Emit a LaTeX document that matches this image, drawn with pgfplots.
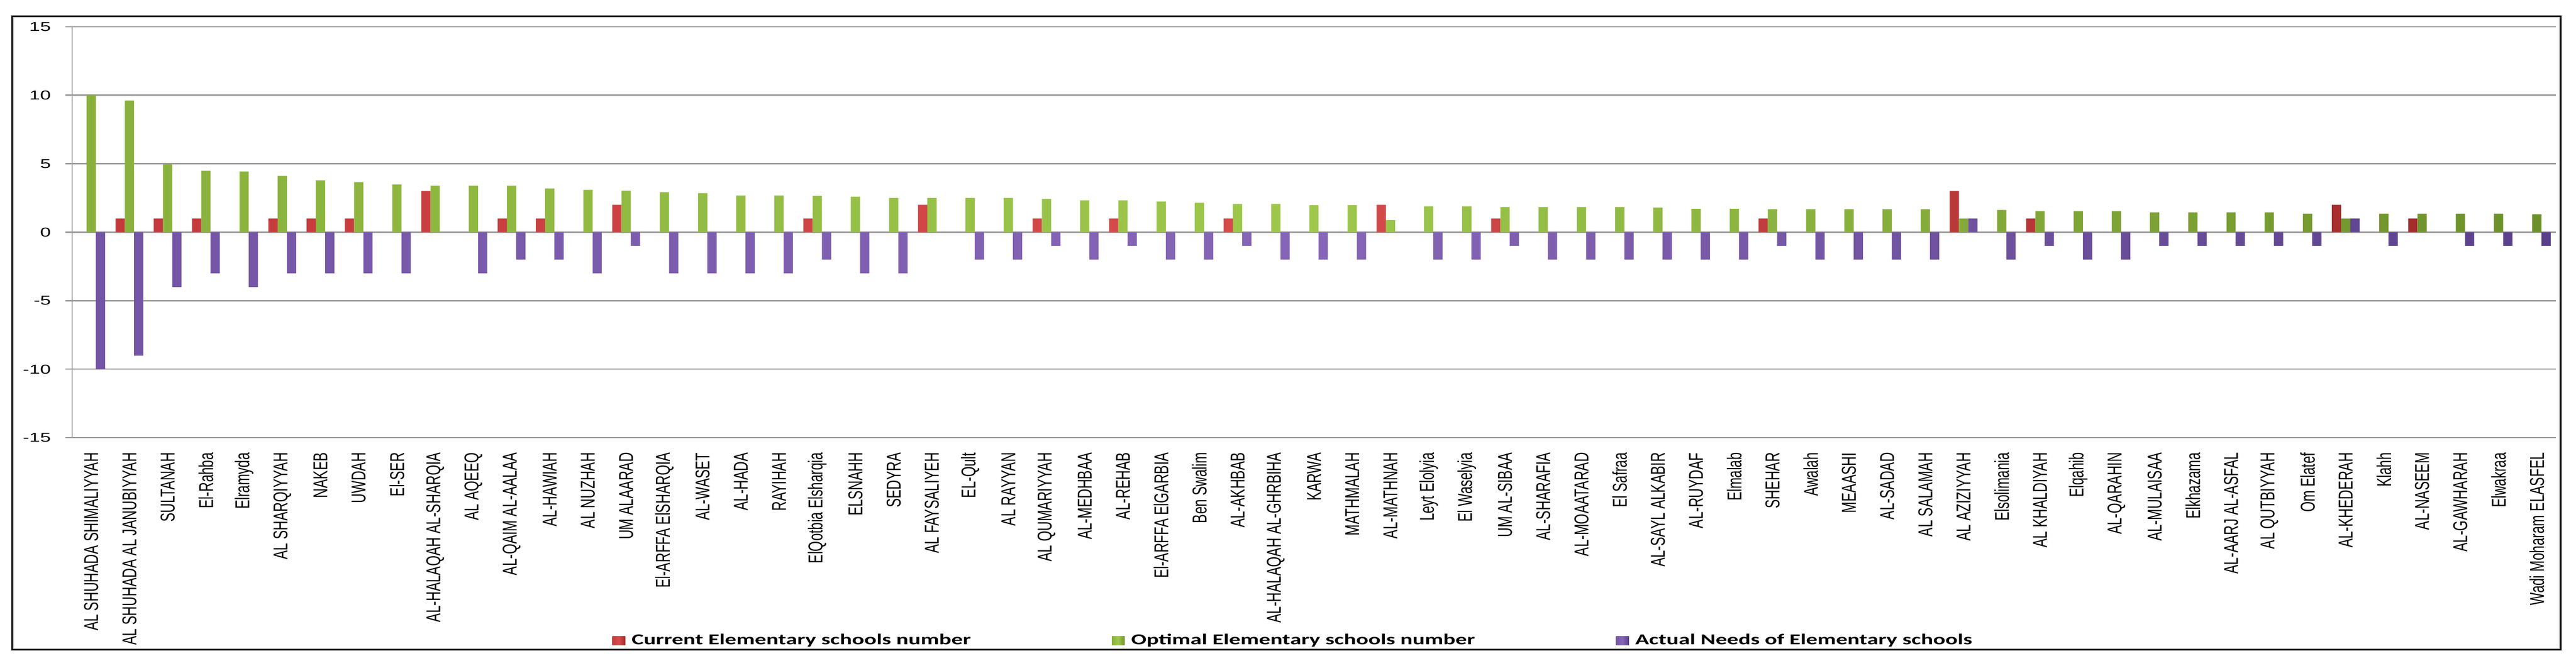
\documentclass[border=0pt]{standalone}
\usepackage{fontspec}
\usepackage{graphicx}
\usepackage{pgfplots}
\pgfplotsset{compat=1.18}
\setmainfont{Liberation Sans}
\newfontfamily\tickfont[FakeStretch=1.5]{Liberation Sans}
\newfontfamily\legfont[FakeStretch=1.5]{Carlito}
% labels are stretched across like the rest of the picture
\newcommand\lb[1]{\scalebox{1}[1.5]{#1}}

\definecolor{gridgray}{HTML}{9A9A9A}
\definecolor{redL}{HTML}{D64C4C}
\definecolor{redM}{HTML}{C43A3C}
\definecolor{redD}{HTML}{A52C2C}
\definecolor{grnL}{HTML}{9EC84C}
\definecolor{grnM}{HTML}{88B03B}
\definecolor{grnD}{HTML}{6C9029}
\definecolor{purL}{HTML}{8666B6}
\definecolor{purM}{HTML}{7454A4}
\definecolor{purD}{HTML}{5A408A}

\pgfplotsset{sqlegend/.style={legend image code/.code={\path[##1] (0pt,-2.75pt) rectangle (8pt,2.75pt);}}}

\begin{document}
\begin{tikzpicture}
\begin{axis}[
    name=ax,
    scale only axis,
    width=1541pt, height=255pt,
    xmin=-0.5, xmax=64.5,
    ymin=-15, ymax=15,
    ytick={-15,-10,...,15},
    xtick={0,...,64},
    ybar=0pt, bar width=5.75pt,
    axis x line*=bottom, axis y line*=left,
    axis line style={draw=gridgray, line width=0.7pt, -},
    ymajorgrids,
    major grid style={draw=gridgray, line width=0.7pt},
    tick align=outside,
    major tick length=4pt,
    xtick style={draw=none},
    ytick style={draw=gridgray, line width=0.7pt},
    /pgf/number format/assume math mode=true,
    yticklabel style={font=\tickfont\fontsize{8pt}{8pt}\selectfont, inner sep=0pt},
    yticklabel shift=9pt,
    xticklabel style={font=\fontsize{8.3pt}{9pt}\selectfont, rotate=90, anchor=east, inner sep=0pt},
    xticklabel shift=5pt,
    xticklabels={
      \lb{AL SHUHADA SHIMALIYYAH}, \lb{AL SHUHADA AL JANUBIYYAH}, \lb{SULTANAH}, \lb{El-Rahba}, \lb{Elramyda},
      \lb{AL SHARQIYYAH}, \lb{NAKEB}, \lb{UWDAH}, \lb{El-SER}, \lb{AL-HALAQAH AL-SHARQIA},
      \lb{AL AQEEQ}, \lb{AL-QAIM AL-AALAA}, \lb{AL-HAWIAH}, \lb{AL NUZHAH}, \lb{UM ALAARAD},
      \lb{El-ARFFA ElSHARQIA}, \lb{AL-WASET}, \lb{AL-HADA}, \lb{RAYIHAH}, \lb{ElQotbia Elsharqia},
      \lb{ELSNAHH}, \lb{SEDYRA}, \lb{AL FAYSALIYEH}, \lb{EL-Qult}, \lb{AL RAYYAN},
      \lb{AL QUMARIYYAH}, \lb{AL-MEDHBAA}, \lb{AL-REHAB}, \lb{El-ARFFA ElGARBIA}, \lb{Ben Swalim},
      \lb{AL-AKHBAB}, \lb{AL-HALAQAH AL-GHRBIHA}, \lb{KARWA}, \lb{MATHMALAH}, \lb{AL-MATHNAH},
      \lb{Leyt Elolyia}, \lb{El Waselyia}, \lb{UM AL-SIBAA}, \lb{AL-SHARAFIA}, \lb{AL-MOAATARAD},
      \lb{El Safraa}, \lb{AL-SAYL ALKABIR}, \lb{AL-RUYDAF}, \lb{Elmalab}, \lb{SHEHAR},
      \lb{Awalah}, \lb{MEAASHI}, \lb{AL-SADAD}, \lb{AL SALAMAH}, \lb{AL AZIZIYYAH},
      \lb{Elsolimania}, \lb{AL KHALDIYAH}, \lb{Elqahib}, \lb{AL-QARAHIN}, \lb{AL-MULAISAA},
      \lb{Elkhazama}, \lb{AL-AARJ AL-ASFAL}, \lb{AL QUTBIYYAH}, \lb{Om Elatef}, \lb{AL-KHEDERAH},
      \lb{Klahh}, \lb{AL-NASEEM}, \lb{AL-GAWHARAH}, \lb{Elwakraa}, \lb{Wadi Moharam ELASFEL}},
    legend columns=3,
    legend style={at={(0.21739,-0.49314)}, anchor=west, draw=none, fill=none, inner sep=0pt,
      font=\legfont\bfseries\fontsize{9.4pt}{10pt}\selectfont,
      nodes={inner sep=0pt},
      /tikz/every odd column/.append style={column sep=4pt},
      /tikz/every even column/.append style={column sep=87.5pt}},
]
% current schools (zeros left out)
\addplot[draw=none, left color=redM, right color=redD, middle color=redL, sqlegend]
  coordinates {(1,1) (2,1) (3,1) (5,1) (6,1) (7,1) (9,3) (11,1) (12,1) (14,2)
    (19,1) (22,2) (25,1) (27,1) (30,1) (34,2) (37,1) (44,1) (49,3) (51,1)
    (59,2) (61,1)};
% optimal schools
\addplot[draw=none, left color=grnM, right color=grnD, middle color=grnL, sqlegend]
  coordinates {(0,10) (1,9.6) (2,4.95) (3,4.48) (4,4.43) (5,4.10) (6,3.78) (7,3.65)
    (8,3.48) (9,3.39) (10,3.39) (11,3.39) (12,3.19) (13,3.09) (14,3.02) (15,2.92)
    (16,2.85) (17,2.67) (18,2.67) (19,2.65) (20,2.59) (21,2.50) (22,2.50) (23,2.50)
    (24,2.50) (25,2.43) (26,2.33) (27,2.33) (28,2.23) (29,2.15) (30,2.06) (31,2.06)
    (32,1.97) (33,1.97) (34,0.89) (35,1.88) (36,1.88) (37,1.84) (38,1.84) (39,1.84)
    (40,1.84) (41,1.80) (42,1.71) (43,1.71) (44,1.68) (45,1.68) (46,1.68) (47,1.68)
    (48,1.68) (49,0.99) (50,1.62) (51,1.54) (52,1.54) (53,1.54) (54,1.44) (55,1.44)
    (56,1.44) (57,1.44) (58,1.35) (59,0.99) (60,1.35) (61,1.35) (62,1.35) (63,1.35)
    (64,1.31)};
% actual needs
\addplot[draw=none, left color=purM, right color=purD, middle color=purL, sqlegend]
  coordinates {(0,-10) (1,-9) (2,-4) (3,-3) (4,-4) (5,-3) (6,-3) (7,-3) (8,-3)
    (10,-3) (11,-2) (12,-2) (13,-3) (14,-1) (15,-3) (16,-3) (17,-3) (18,-3)
    (19,-2) (20,-3) (21,-3) (23,-2) (24,-2) (25,-1) (26,-2) (27,-1) (28,-2)
    (29,-2) (30,-1) (31,-2) (32,-2) (33,-2) (35,-2) (36,-2) (37,-1) (38,-2)
    (39,-2) (40,-2) (41,-2) (42,-2) (43,-2) (44,-1) (45,-2) (46,-2) (47,-2)
    (48,-2) (49,1) (50,-2) (51,-1) (52,-2) (53,-2) (54,-1) (55,-1) (56,-1)
    (57,-1) (58,-1) (59,1) (60,-1) (62,-1) (63,-1) (64,-1)};
\legend{Current Elementary schools number, Optimal Elementary schools number, Actual Needs of Elementary schools}
\end{axis}
\begin{scope}[shift={(ax.south west)}]
  \path (-44.75pt,-142.5pt) rectangle (1553.5pt,271.5pt);
  \draw[gray!55, line width=0.5pt] (-36.5pt,-130.8pt) rectangle (1543.2pt,260.8pt);
  \draw[black, line width=0.9pt] (-37.25pt,-131.5pt) rectangle (1544pt,261.5pt);
\end{scope}
\end{tikzpicture}
\end{document}
